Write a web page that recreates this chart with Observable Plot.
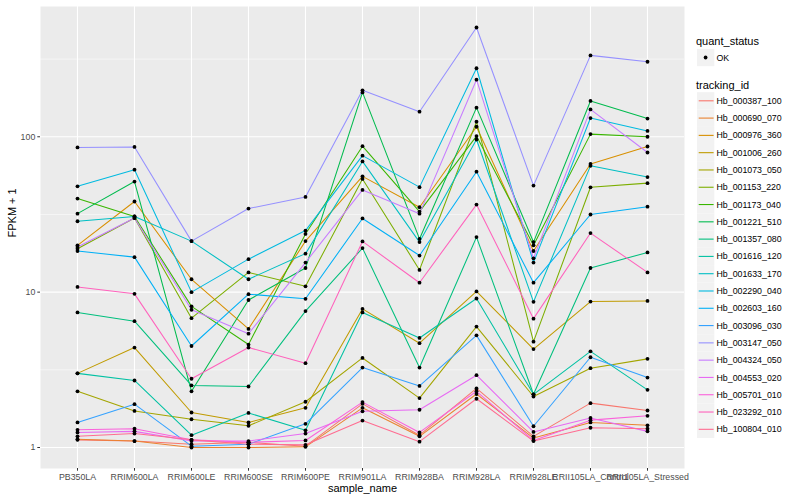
<!DOCTYPE html>
<html>
<head>
<meta charset="utf-8">
<script src="https://cdn.jsdelivr.net/npm/d3@7"></script>
<script src="https://cdn.jsdelivr.net/npm/@observablehq/plot@0.6"></script>
<style>
  body { margin: 0; background: #fff; font-family: "Liberation Sans", Arial, Helvetica, sans-serif; }
  #wrap { position: relative; width: 800px; height: 500px; overflow: hidden; }
  #chart { position: absolute; left: 0; top: 0; }
  #legend { position: absolute; left: 690px; top: 0; }
</style>
</head>
<body>
<div id="wrap"><div id="chart"></div><div id="legend"></div></div>
<script>
// ---- categories ----
const samples = ["PB350LA","RRIM600LA","RRIM600LE","RRIM600SE","RRIM600PE","RRIM901LA","RRIM928BA","RRIM928LA","RRIM928LE","RRII105LA_Control","RRII105LA_Stressed"];
const trackingIds = ["Hb_000387_100","Hb_000690_070","Hb_000976_360","Hb_001006_260","Hb_001073_050","Hb_001153_220","Hb_001173_040","Hb_001221_510","Hb_001357_080","Hb_001616_120","Hb_001633_170","Hb_002290_040","Hb_002603_160","Hb_003096_030","Hb_003147_050","Hb_004324_050","Hb_004553_020","Hb_005701_010","Hb_023292_010","Hb_100804_010"];
const seriesColors = ["#F8766D","#EA8331","#D89000","#C09B00","#A3A500","#7CAE00","#39B600","#00BB4E","#00BF7D","#00C1A3","#00BFC4","#00BAE0","#00B0F6","#35A2FF","#9590FF","#C77CFF","#E76BF3","#FA62DB","#FF62BC","#FF6C91"];
const quantStatus = ["OK"];

// ---- series values (FPKM + 1), one per tracking id, in sample order ----
const Hb_000387_100 = [1.12, 1.10, 1.05, 1.08, 1.02, 1.91, 1.20, 2.40, 1.18, 1.93, 1.73];
const Hb_000690_070 = [1.13, 1.10, 1.00, 1.00, 1.01, 1.80, 1.18, 2.21, 1.15, 1.45, 1.39];
const Hb_000976_360 = [20.0, 38.3, 12.1, 5.8, 21.3, 55.6, 35.2, 116, 18.4, 66.8, 86.6];
const Hb_001006_260 = [3.0, 4.4, 1.68, 1.45, 1.80, 7.8, 4.69, 10.1, 4.3, 8.7, 8.78];
const Hb_001073_050 = [2.3, 1.72, 1.52, 1.38, 1.97, 3.77, 2.08, 6.0, 2.13, 3.24, 3.72];
const Hb_001153_220 = [19.0, 30.0, 6.8, 13.4, 10.9, 53.5, 13.9, 125, 4.8, 47.3, 50.3];
const Hb_001173_040 = [40.0, 30.7, 8.1, 4.6, 23.7, 87.0, 33.0, 101, 20.0, 104, 100];
const Hb_001221_510 = [32.0, 51.5, 2.3, 8.9, 14.3, 193, 22.0, 154, 21.0, 170, 131];
const Hb_001357_080 = [7.4, 6.5, 2.51, 2.47, 7.55, 19.2, 3.27, 22.6, 2.2, 14.3, 18.0];
const Hb_001616_120 = [3.0, 2.7, 1.20, 1.67, 1.29, 7.4, 5.07, 9.1, 2.2, 4.16, 2.35];
const Hb_001633_170 = [28.6, 30.7, 21.3, 12.1, 17.7, 69.4, 21.0, 96, 8.66, 65, 55];
const Hb_002290_040 = [48.0, 61.4, 10.0, 16.3, 24.9, 75.6, 47.4, 276, 15.5, 132, 109];
const Hb_002603_160 = [18.4, 16.8, 4.5, 9.7, 9.06, 29.8, 17.2, 59.6, 11.5, 31.6, 35.5];
const Hb_003096_030 = [1.45, 1.90, 1.02, 1.05, 1.42, 3.27, 2.49, 5.27, 1.37, 3.81, 2.82];
const Hb_003147_050 = [85.4, 86.0, 21.3, 34.5, 41.0, 199, 145, 505, 48.5, 334, 304];
const Hb_004324_050 = [19.5, 30.0, 7.7, 5.4, 15.5, 45.5, 32.0, 233, 16.5, 150, 79.2];
const Hb_004553_020 = [1.25, 1.27, 1.10, 1.10, 1.23, 1.71, 1.75, 2.92, 1.26, 1.55, 1.27];
const Hb_005701_010 = [1.30, 1.32, 1.12, 1.08, 1.11, 1.96, 1.25, 2.30, 1.11, 1.50, 1.60];
const Hb_023292_010 = [10.8, 9.75, 2.77, 4.4, 3.49, 21.2, 11.5, 36.6, 6.75, 24.0, 13.4];
const Hb_100804_010 = [1.18, 1.23, 1.12, 1.05, 1.04, 1.49, 1.09, 2.06, 1.10, 1.34, 1.32];

// ---- tick labels ----
const yTicks = [1, 10, 100];
const yMinorTicks = [Math.sqrt(10), 10 * Math.sqrt(10), 100 * Math.sqrt(10)];

const seriesValues = [Hb_000387_100, Hb_000690_070, Hb_000976_360, Hb_001006_260, Hb_001073_050, Hb_001153_220, Hb_001173_040, Hb_001221_510, Hb_001357_080, Hb_001616_120, Hb_001633_170, Hb_002290_040, Hb_002603_160, Hb_003096_030, Hb_003147_050, Hb_004324_050, Hb_004553_020, Hb_005701_010, Hb_023292_010, Hb_100804_010];

const data = [];
trackingIds.forEach((id, i) => {
  seriesValues[i].forEach((v, j) => data.push({ tracking_id: id, sample_name: samples[j], value: v, quant_status: "OK" }));
});

// ggplot-like 5% expansion in log space
const lo = Math.log10(d3.min(data, d => d.value));
const hi = Math.log10(d3.max(data, d => d.value));
const pad = 0.05 * (hi - lo);
const yDomain = [Math.pow(10, lo - pad), Math.pow(10, hi + pad)];

const chart = Plot.plot({
  width: 690,
  height: 500,
  marginLeft: 40,
  marginRight: 6,
  marginTop: 6,
  marginBottom: 32,
  style: { fontFamily: "'Liberation Sans', Arial, Helvetica, sans-serif", background: "transparent" },
  x: { type: "point", domain: samples, padding: 0.6, label: null },
  y: { type: "log", domain: yDomain, label: null },
  color: { domain: trackingIds, range: seriesColors },
  marks: [
    Plot.frame({ fill: "#EBEBEB", stroke: null }),
    Plot.gridY(yMinorTicks, { stroke: "#ffffff", strokeOpacity: 1, strokeWidth: 0.55 }),
    Plot.gridY(yTicks, { stroke: "#ffffff", strokeOpacity: 1, strokeWidth: 1.1 }),
    Plot.gridX(samples, { stroke: "#ffffff", strokeOpacity: 1, strokeWidth: 1.1 }),
    Plot.axisY(yTicks, { tickFormat: d => String(d), tickSize: 2.7, tickPadding: 2.5, fontSize: 8.8, stroke: "#333333", fill: "#4D4D4D", label: null }),
    Plot.axisX(samples, { tickSize: 2.7, tickPadding: 2.2, fontSize: 8.8, stroke: "#333333", fill: "#4D4D4D", label: null }),
    Plot.line(data, { x: "sample_name", y: "value", z: "tracking_id", stroke: "tracking_id", strokeWidth: 1.05 }),
    Plot.dot(data, { x: "sample_name", y: "value", r: 1.9, fill: "#000000", stroke: null }),
    Plot.text(["FPKM + 1"], { text: d => d, frameAnchor: "left", dx: -28, rotate: -90, fontSize: 11, fill: "#000000" }),
    Plot.text(["sample_name"], { text: d => d, frameAnchor: "bottom", dy: 23, fontSize: 11, fill: "#000000" })
  ]
});
document.getElementById("chart").appendChild(chart);

// ---- legend (HTML-side SVG, to the right of the chart) ----
const lg = d3.select("#legend").append("svg").attr("width", 110).attr("height", 500)
  .style("font-family", "'Liberation Sans', Arial, Helvetica, sans-serif");
lg.append("text").attr("x", 6).attr("y", 41).attr("dy", "0.35em").attr("font-size", 11).attr("fill", "#000").text("quant_status");
quantStatus.forEach((q, i) => {
  const cy = 57.5 + i * 17.3;
  lg.append("rect").attr("x", 7).attr("y", cy - 8.6).attr("width", 17.3).attr("height", 17.3).attr("fill", "#F2F2F2");
  lg.append("circle").attr("cx", 15.6).attr("cy", cy).attr("r", 1.9).attr("fill", "#000");
  lg.append("text").attr("x", 26.5).attr("y", cy).attr("dy", "0.35em").attr("font-size", 8.8).attr("fill", "#000").text(q);
});
lg.append("text").attr("x", 6).attr("y", 85).attr("dy", "0.35em").attr("font-size", 11).attr("fill", "#000").text("tracking_id");
trackingIds.forEach((id, i) => {
  const cy = 100.8 + i * 17.29;
  lg.append("rect").attr("x", 7).attr("y", cy - 8.6).attr("width", 17.3).attr("height", 17.3).attr("fill", "#F2F2F2");
  lg.append("line").attr("x1", 8.7).attr("x2", 23.6).attr("y1", cy).attr("y2", cy).attr("stroke", seriesColors[i]).attr("stroke-width", 1.1);
  lg.append("text").attr("x", 26.5).attr("y", cy).attr("dy", "0.35em").attr("font-size", 8.8).attr("fill", "#000").text(id);
});
</script>
</body>
</html>
